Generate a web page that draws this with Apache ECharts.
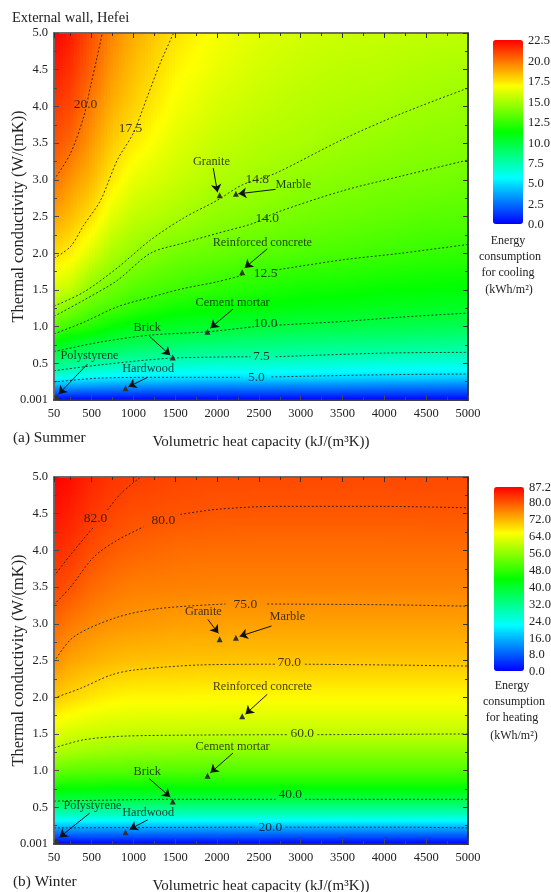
<!DOCTYPE html>
<html><head><meta charset="utf-8">
<style>html,body{margin:0;padding:0;background:#fff}#c{width:551px;height:892px}</style>
<script src="https://cdn.jsdelivr.net/npm/echarts@6/dist/echarts.min.js"></script>
</head><body><div id="c"></div>
<script>
// ---------- data ----------
const heatCapacity = [50,250,500,750,1000,1500,2000,2500,3000,3500,4000,4500,5000];
const conductivity = [0.001,0.1,0.2,0.3,0.4,0.6,0.8,1,1.25,1.5,2,2.5,3,3.5,4,4.5,5];
const xMajor = [50,500,1000,1500,2000,2500,3000,3500,4000,4500,5000];
const xMinor = [250,750,1250,1750,2250,2750,3250,3750,4250,4750];
const yMajor = [0.001,0.5,1,1.5,2,2.5,3,3.5,4,4.5,5];
const yMinor = [0.25,0.75,1.25,1.75,2.25,2.75,3.25,3.75,4.25,4.75];
const rainbow = [[0,0,255],[0,255,255],[0,255,0],[255,255,0],[255,0,0]];

// one list per heat-capacity column, bottom to top
const coolingField = [
 [0,2.0,4.1,5.9,7.5,9.5,11.4,13.1,14.7,15.9,17.7,18.9,20,20.7,21.3,21.9,22.5],
 [0,1.9,3.9,5.6,7.1,9.0,10.7,12.5,13.9,15.5,17.2,18.3,19.2,20.2,20.9,21.4,21.9],
 [0,1.8,3.7,5.3,6.7,8.7,10.3,12,13.2,14.2,16.1,17.5,18.4,19.1,19.7,20.3,20.7],
 [0,1.75,3.6,5.2,6.4,8.5,9.9,11.3,12.8,13.6,15.0,16.2,17.3,18.0,18.6,19.1,19.5],
 [0,1.7,3.5,5.0,6.2,8.2,9.7,10.9,12.3,13.1,14.5,15.5,16.4,17.3,17.9,18.3,18.7],
 [0,1.7,3.4,5.0,6.0,7.8,9.3,10.4,11.6,12.6,13.8,14.95,15.7,16.2,16.7,17.1,17.5],
 [0,1.65,3.3,4.9,5.9,7.6,9.0,10.2,11.4,12.2,13.5,14.4,15.1,15.6,16.0,16.4,16.7],
 [0,1.65,3.3,4.9,5.9,7.6,8.8,10.0,11.1,11.9,13.2,14.1,14.8,15.2,15.6,15.9,16.2],
 [0,1.6,3.2,4.8,5.8,7.5,8.7,9.8,10.9,11.6,13.0,13.8,14.4,15.0,15.3,15.6,15.9],
 [0,1.6,3.2,4.7,5.7,7.4,8.6,9.7,10.8,11.5,12.8,13.6,14.2,14.7,15.1,15.4,15.7],
 [0,1.55,3.1,4.6,5.6,7.3,8.5,9.6,10.6,11.3,12.6,13.4,14.0,14.5,14.95,15.3,15.6],
 [0,1.55,3.1,4.6,5.5,7.2,8.4,9.5,10.5,11.2,12.4,13.2,13.9,14.3,14.75,15.1,15.5],
 [0,1.5,3.0,4.5,5.5,7.1,8.3,9.4,10.4,11.1,12.3,13.1,13.7,14.2,14.6,15,15.4]
];
const heatingField = [
 [0,6.5,13.5,20.5,27,38.5,46,52.5,58.8,63,70.1,75.1,78.4,81.3,83.5,85.5,87.2],
 [0,6.5,13.5,20.5,27,38,45.5,51.5,57.8,61.5,68.8,73.1,76.8,80.2,82.6,84.5,86],
 [0,6.5,13.5,20.5,27,38,45.5,51,57,60.8,67.4,72.1,75.4,78.3,80.6,82.5,84],
 [0,6.5,13.5,20.5,27,37.5,45,51,56.5,60.4,66.4,71.2,74.6,77.2,79.5,81.3,82.7],
 [0,6.5,13.5,20.5,27,37.5,45,50.8,56,60.2,66,70.8,74.2,76.4,78.8,80.5,82],
 [0,6.5,13.5,20.5,27,37.5,45,50.6,55.7,60.1,66,70.5,73.6,76.2,78,80.1,81.3],
 [0,6.5,13.5,20.5,27,37.5,45,50.5,55.5,60,65.8,70.4,73.5,76,77.8,79.8,81],
 [0,6.5,13.5,20.5,27,37.5,45,50.5,55.5,60,65.8,70.4,73.4,76,77.8,79.7,81],
 [0,6.5,13.5,20.5,27,37.5,45,50.5,55.5,60,65.8,70.4,73.4,76,77.8,79.7,81],
 [0,6.5,13.5,20.5,27,37.5,45,50.5,55.5,60,65.8,70.4,73.4,76,77.8,79.7,81],
 [0,6.5,13.5,20.5,27,37.5,45,50.5,55.5,60,65.8,70.4,73.4,76,77.8,79.7,81],
 [0,6.5,13.5,20.5,27,37.5,45,50.5,55.5,60,65.8,70.4,73.4,76,77.8,79.8,81],
 [0,6.5,13.5,20.5,27,37.5,45,50.5,55.5,60,65.8,70.4,73.5,76,77.8,79.8,81]
];

// contour lines; a null splits the line at its label
const coolingContours = [
 [[50,3.0],[247,3.36],[405,3.86],[486,4.27],[565,4.67],[628,5.0]],
 [[50,1.93],[247,2.09],[405,2.38],[606,2.72],[807,3.27],[1000,3.64],[1165,4.13],[1320,4.59],[1480,5.0]],
 [[50,1.28],[405,1.47],[807,1.80],[1203,2.18],[1600,2.48],[2000,2.72],[2300,2.93],[2700,3.09],[3500,3.55],[4200,3.9],[5000,4.25]],
 [[50,1.14],[405,1.36],[807,1.63],[1203,2.0],[1600,2.14],[2000,2.27],[2440,2.41],[2700,2.55],[3500,2.85],[4200,3.05],[5000,3.27]],
 [[50,0.90],[405,1.06],[807,1.27],[1203,1.40],[1600,1.52],[2000,1.61],[2300,1.70],null,[2700,1.77],[3500,1.91],[4200,2.0],[5000,2.12]],
 [[50,0.66],[606,0.79],[1200,0.885],[1880,0.93],[2440,1.0],null,[2700,1.02],[3500,1.07],[4200,1.13],[5000,1.185]],
 [[50,0.40],[606,0.48],[1440,0.57],[2400,0.59],null,[2700,0.59],[4000,0.64],[5000,0.65]],
 [[50,0.245],[606,0.30],[1500,0.31],[2300,0.31],null,[2650,0.315],[4000,0.345],[5000,0.355]]
];
const heatingContours = [
 [[50,3.65],[247,3.94],[525,4.32],null,[690,4.55],[845,4.77],[1085,5.0]],
 [[50,3.26],[247,3.50],[525,3.91],[807,4.14],[1120,4.32],null,[1560,4.49],[2000,4.56],[2700,4.60],[3975,4.60],[5000,4.58]],
 [[50,2.48],[283,2.82],[807,3.09],[1320,3.21],[2100,3.27],null,[2600,3.27],[4000,3.26],[5000,3.24]],
 [[50,1.99],[365,2.12],[725,2.30],[1000,2.37],[1800,2.44],[2700,2.45],null,[3050,2.45],[4000,2.44],[5000,2.425]],
 [[50,1.31],[405,1.42],[880,1.47],[1800,1.485],[2850,1.49],null,[3200,1.49],[5000,1.50]],
 [[50,0.585],[1500,0.61],[2700,0.61],null,[3050,0.61],[5000,0.61]],
 [[50,0.22],[1000,0.225],[2450,0.23],null,[2820,0.23],[4200,0.23],[5000,0.22]]
];
const coolingLevelLabels = [[427,4.02,'20.0'],[964,3.70,'17.5'],[2480,3.0,'14.8'],[2600,2.48,'14.0'],[2580,1.73,'12.5'],[2580,1.04,'10.0'],[2530,0.60,'7.5'],[2470,0.31,'5.0']];
const heatingLevelLabels = [[546,4.44,'82.0'],[1358,4.41,'80.0'],[2338,3.27,'75.0'],[2863,2.47,'70.0'],[3018,1.51,'60.0'],[2874,0.67,'40.0'],[2637,0.23,'20.0']];

const materialNames = ['Polystyrene','Hardwood','Brick','Cement mortar','Reinforced concrete','Granite','Marble'];
const materialPoints = [[85,0.04],[905,0.16],[1470,0.58],[1885,0.93],[2300,1.74],[2030,2.79],[2225,2.81]];
const coolingNamePos = [[475,0.61],[1175,0.42],[1165,0.99],[2186,1.33],[2541,2.14],[1932,3.24],[2912,2.93]];
const heatingNamePos = [[510,0.52],[1175,0.42],[1165,0.99],[2186,1.33],[2541,2.14],[1836,3.16],[2840,3.09]];
const coolingArrows = [[[450,0.49],[105,0.08]],[[1170,0.31],[940,0.18]],[[1190,0.87],[1440,0.61]],[[2190,1.24],[1920,0.98]],[[2600,2.06],[2330,1.80]],[[1954,3.16],[2005,2.83]],[[2700,2.87],[2255,2.81]]];
const heatingArrows = [[[475,0.42],[115,0.09]],[[1170,0.33],[955,0.2]],[[1190,0.89],[1440,0.64]],[[2190,1.24],[1920,0.97]],[[2600,2.04],[2340,1.77]],[[1890,3.06],[2015,2.87]],[[2650,2.97],[2270,2.83]]];

const coolingLegendTicks = {max:22.5, step:2.5};
const heatingLegendTicks = {max:87.2, step:8};

// ---------- drawing ----------
const FONT = '"Liberation Serif","Times New Roman",serif';
const INK = '#222';
function colorAt(v, max){
  const t = Math.max(0, Math.min(1, v / max)) * (rainbow.length - 1);
  const i = Math.min(rainbow.length - 2, Math.floor(t)), f = t - i;
  const a = rainbow[i], b = rainbow[i + 1];
  return 'rgb(' + [0,1,2].map(k => Math.round(a[k] + (b[k] - a[k]) * f)).join(',') + ')';
}
function cells(field){
  const out = [];
  for (let c = 0; c < heatCapacity.length - 1; c++)
    for (let r = 0; r < conductivity.length - 1; r++)
      out.push([heatCapacity[c],conductivity[r],heatCapacity[c+1],conductivity[r+1],
                field[c][r],field[c+1][r],field[c][r+1],field[c+1][r+1]]);
  return out;
}
function fieldRenderer(max){
  return function(params, api){
    const x0=api.value(0), y0=api.value(1), x1=api.value(2), y1=api.value(3);
    const v00=api.value(4), v10=api.value(5), v01=api.value(6), v11=api.value(7);
    const a = api.coord([x0,y0]), b = api.coord([x1,y1]);
    const left=Math.round(a[0]), right=Math.round(b[0]), top=Math.round(b[1]), bottom=Math.round(a[1]);
    const children=[];
    for (let px=left; px<right; px+=3){
      const w=Math.min(3,right-px), t=(px+w/2-a[0])/(b[0]-a[0]);
      const vb=v00+(v10-v00)*t, vt=v01+(v11-v01)*t, stops=[];
      for (let s=0; s<=6; s++) stops.push({offset:s/6,color:colorAt(vt+(vb-vt)*s/6,max)});
      children.push({type:'rect',shape:{x:px,y:top,width:w,height:bottom-top},
        style:{fill:{type:'linear',x:0,y:0,x2:0,y2:1,colorStops:stops}},silent:true});
    }
    return {type:'group',children};
  };
}
function axisSet(kind, grid, majors, minors, min, max, name){
  const isX = kind==='x', out=[];
  const fmt = v => isX ? String(v) : (v===0.001 ? '0.001' : v.toFixed(1));
  [[isX?'bottom':'left',majors,5,true,'#4a4a4a'],[isX?'bottom':'left',minors,3,false,'#4a4a4a'],
   [isX?'top':'right',majors,5,false,'#333'],[isX?'top':'right',minors,3,false,'#333']].forEach(([pos,vals,len,labels,col])=>{
    const ax={type:'value',gridIndex:grid,position:pos,min,max,z:10,scale:false,splitLine:{show:false},
      axisLine:{show:true,onZero:false,lineStyle:{color:(pos==='left'||pos==='top')?'#666':'#333',width:1.5}},
      axisTick:{show:true,inside:true,length:len,customValues:vals,lineStyle:{color:col,width:1}},
      axisLabel:{show:labels,customValues:labels?vals:undefined,formatter:fmt,fontFamily:FONT,fontSize:12.5,color:INK,margin:isX?7:6,
        showMinLabel:true,showMaxLabel:true,hideOverlap:false}};
    if(labels){ax.name=name;ax.nameLocation='middle';ax.nameGap=isX?35:27;ax.nameMoveOverlap=false;
      ax.nameTextStyle={fontFamily:FONT,fontSize:isX?15:16.4,color:INK};}
    out.push(ax);
  });
  return out;
}
const grids=[], xAxes=[], yAxes=[], series=[], vmaps=[];
function panel(i, top, field, contours, levelLabels, namePos, arrows, max, legendLeft, legendTop, legend){
  grids.push({left:54,top,width:414,height:367,outerBoundsMode:'none'});
  const xs=xAxes.length, ys=yAxes.length;
  xAxes.push(...axisSet('x',grids.length-1,xMajor,xMinor,50,5000,'Volumetric heat capacity (kJ/(m³K))'));
  yAxes.push(...axisSet('y',grids.length-1,yMajor,yMinor,0.001,5,'Thermal conductivity (W/(mK))'));
  const base={xAxisIndex:xs,yAxisIndex:ys,animation:false,silent:true};
  series.push(Object.assign({},base,{type:'custom',z:2,clip:true,renderItem:fieldRenderer(max),
    encode:{x:[0,2],y:[1,3]},dimensions:['x0','y0','x1','y1','v00','v10','v01','v11'],data:cells(field)}));
  vmaps.push({type:'continuous',seriesIndex:series.length-1,dimension:4,min:0,max,left:legendLeft,top:legendTop,
    itemWidth:30,itemHeight:184,padding:0,calculable:false,hoverLink:false,text:null,showLabel:false,
    inRange:{color:rainbow.map(c=>'rgb('+c.join(',')+')')},textStyle:{color:'transparent',fontSize:1}});
  contours.forEach(c=>series.push(Object.assign({},base,{type:'line',z:3,clip:true,smooth:0.3,showSymbol:false,symbol:'none',
    lineStyle:{color:'#111',width:0.8,type:[2,2]},connectNulls:false,
    data:c.map(p=>p===null?['-','-']:p)})));
  series.push(Object.assign({},base,{type:'scatter',z:4,symbolSize:0,data:levelLabels,
    label:{show:true,position:'inside',formatter:p=>p.data[2],fontFamily:FONT,fontSize:13.5,color:'#111'}}));
  series.push(Object.assign({},base,{type:'scatter',z:5,symbol:'triangle',symbolSize:6,
    itemStyle:{color:'#333',opacity:1},data:materialPoints,
    markLine:{silent:true,animation:false,symbol:['none','arrow'],symbolSize:8,lineStyle:{color:'#111',width:1,type:'solid'},label:{show:false},
      data:arrows.map(a=>[{coord:a[0]},{coord:a[1]}])}}));
  series.push(Object.assign({},base,{type:'scatter',z:6,symbolSize:0,
    data:namePos.map((p,k)=>[p[0],p[1],materialNames[k]]),
    label:{show:true,position:'inside',formatter:p=>p.data[2],fontFamily:FONT,fontSize:12.3,color:'#111'}}));
  // legend tick labels
  grids.push({left:legendLeft+30,top:legendTop+1,width:1,height:184,outerBoundsMode:'none'});
  xAxes.push({type:'value',gridIndex:grids.length-1,show:false,min:0,max:1});
  const ticks=[];
  for(let v=0; v<max-1e-6; v+=legend.step) ticks.push(+v.toFixed(1));
  ticks.push(max);
  yAxes.push({type:'value',gridIndex:grids.length-1,position:'right',min:0,max,
    splitLine:{show:false},axisLine:{show:false,onZero:false},axisTick:{show:false},
    axisLabel:{show:true,customValues:ticks,formatter:v=>v.toFixed(1),fontFamily:FONT,fontSize:12.5,color:INK,margin:4,hideOverlap:false,showMinLabel:true,showMaxLabel:true}});
}
panel(0,33,coolingField,coolingContours,coolingLevelLabels,coolingNamePos,coolingArrows,22.5,493,40,coolingLegendTicks);
panel(1,477,heatingField,heatingContours,heatingLevelLabels,heatingNamePos,heatingArrows,87.2,494,487,heatingLegendTicks);

function txt(text,x,y,size,align){
  return {type:'text',x,y,z:20,silent:true,style:{text,fontFamily:FONT,fontSize:size,fill:INK,
    textAlign:align||'left',textVerticalAlign:'middle',align:align||'left',verticalAlign:'middle'}};
}
const graphics=[
  txt('External wall, Hefei',12,18,14.5),
  txt('(a) Summer',13,438,15.3),
  txt('(b) Winter',13,882,15.3),
  txt('Energy',508,241,12,'center'),txt('consumption',510,257,12,'center'),
  txt('for cooling',508,273,12,'center'),txt('(kWh/m²)',509,290,12,'center'),
  txt('Energy',512,686,12,'center'),txt('consumption',514,702,12,'center'),
  txt('for heating',512,718,12,'center'),txt('(kWh/m²)',514,736,12,'center')
];
const chart=echarts.init(document.getElementById('c'),null,{renderer:'canvas',width:551,height:892});
chart.setOption({animation:false,backgroundColor:'#fff',grid:grids,xAxis:xAxes,yAxis:yAxes,visualMap:vmaps,series,graphic:graphics});
</script></body></html>
